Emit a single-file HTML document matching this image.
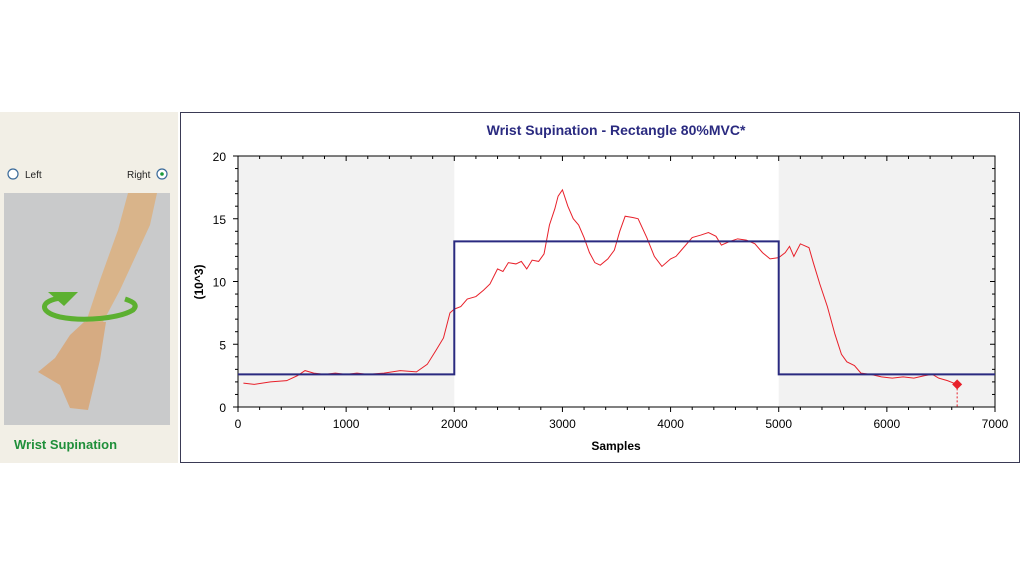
<!DOCTYPE html>
<html><head><meta charset="utf-8"><style>
body{margin:0;width:1024px;height:576px;background:#fff;position:relative;overflow:hidden;font-family:"Liberation Sans",Arial,sans-serif}
#lp{position:absolute;left:0;top:112px;width:178px;height:351px;background:#f2efe6}
#box{position:absolute;left:180px;top:112px;width:838px;height:349px;border:1px solid #3a3a55;background:#fff}
</style></head><body>
<div id="lp"></div>
<div id="box"></div>
<svg width="1024" height="576" style="position:absolute;left:0;top:0" font-family="Liberation Sans, Arial, sans-serif">
<circle cx="13" cy="174" r="5" fill="#fff" stroke="#3a6a9a" stroke-width="1.2"/>
<text x="25" y="178" font-size="10" fill="#222">Left</text>
<text x="127" y="178" font-size="10" fill="#222">Right</text>
<circle cx="162" cy="174" r="5" fill="#fff" stroke="#3a6a9a" stroke-width="1.2"/>
<circle cx="162" cy="174" r="1.8" fill="#1a9a3a"/>
<rect x="4" y="193" width="166" height="232" fill="#c9cacb"/>
<path d="M128 193 L157 193 L150 225 L120 290 L103 322 L86 322 L100 280 L118 230 Z" fill="#d9b48a"/>
<path d="M84 322 L106 322 L100 360 L88 410 L70 408 L60 385 L38 372 L55 358 L70 335 Z" fill="#d6ab82"/>
<path d="M62 298 C40 300 38 312 60 317 C85 322 120 318 133 310 C138 305 134 302 125 299" fill="none" stroke="#5cb030" stroke-width="5"/>
<path d="M48 292 L78 292 L64 306 Z" fill="#5cb030"/>
<text x="14" y="449" font-size="13" font-weight="bold" fill="#1f8f3a">Wrist Supination</text>
<text x="616" y="135" font-size="14" font-weight="bold" fill="#2a2a80" text-anchor="middle">Wrist Supination - Rectangle 80%MVC*</text>
<g id="plot"></g>
<text x="616" y="450" font-size="12" font-weight="bold" text-anchor="middle" fill="#000">Samples</text>
<text transform="translate(203,282) rotate(-90)" font-size="12" font-weight="bold" text-anchor="middle" fill="#000">(10^3)</text>
</svg>
<script>
var X0=238,X1=995,Y0=407,Y20=156;
function X(s){return X0+(X1-X0)*s/7000}function Y(v){return Y0-(Y0-Y20)*v/20}
var h='';
h+='<rect x="'+X0+'" y="'+Y20+'" width="'+(X(2000)-X0)+'" height="'+(Y0-Y20)+'" fill="#f2f2f2"/>';
h+='<rect x="'+X(5000)+'" y="'+Y20+'" width="'+(X1-X(5000))+'" height="'+(Y0-Y20)+'" fill="#f2f2f2"/>';
h+='<rect x="'+X0+'" y="'+Y20+'" width="'+(X1-X0)+'" height="'+(Y0-Y20)+'" fill="none" stroke="#000" stroke-width="1"/>';
for(var s=0;s<=7000;s+=200){var m=s%1000==0,l=m?5:3;var x=X(s);
h+='<line x1="'+x+'" y1="'+Y0+'" x2="'+x+'" y2="'+(Y0+l)+'" stroke="#000"/><line x1="'+x+'" y1="'+Y20+'" x2="'+x+'" y2="'+(Y20+l)+'" stroke="#000"/>';
if(m)h+='<text x="'+x+'" y="'+(Y0+21)+'" font-size="12" text-anchor="middle">'+s+'</text>';}
for(var v=0;v<=20;v+=1){var m=v%5==0,l=m?5:3;var y=Y(v);
h+='<line x1="'+(X0-l)+'" y1="'+y+'" x2="'+X0+'" y2="'+y+'" stroke="#000"/><line x1="'+X1+'" y1="'+y+'" x2="'+(X1-l)+'" y2="'+y+'" stroke="#000"/>';
if(m)h+='<text x="'+(X0-12)+'" y="'+(y+5)+'" font-size="12" text-anchor="end">'+v+'</text>';}
var pts=[[50,1.9],[150,1.8],[300,2.0],[450,2.1],[550,2.5],[620,2.9],[700,2.7],[800,2.6],[900,2.7],[1000,2.6],[1100,2.7],[1200,2.6],[1350,2.7],[1500,2.9],[1650,2.8],[1750,3.4],[1830,4.5],[1900,5.5],[1960,7.5],[2000,7.8],[2060,8.0],[2120,8.6],[2200,8.8],[2270,9.3],[2330,9.8],[2400,11.0],[2450,10.8],[2500,11.5],[2570,11.4],[2620,11.6],[2670,11.0],[2720,11.7],[2780,11.6],[2830,12.2],[2880,14.5],[2930,15.8],[2960,16.8],[3000,17.3],[3050,16],[3100,15.0],[3150,14.5],[3200,13.5],[3250,12.3],[3300,11.5],[3350,11.3],[3420,11.8],[3480,12.5],[3530,14.0],[3580,15.2],[3650,15.1],[3700,15.0],[3780,13.5],[3850,12],[3920,11.2],[4000,11.8],[4050,12.0],[4100,12.5],[4200,13.5],[4280,13.7],[4350,13.9],[4420,13.6],[4470,12.9],[4550,13.2],[4620,13.4],[4700,13.3],[4780,13.0],[4850,12.3],[4920,11.8],[5000,11.9],[5060,12.3],[5100,12.8],[5140,12.0],[5200,13.0],[5280,12.7],[5320,11.5],[5380,9.8],[5450,8],[5520,5.8],[5580,4.2],[5630,3.6],[5700,3.3],[5760,2.7],[5850,2.6],[5950,2.4],[6050,2.3],[6150,2.4],[6250,2.3],[6350,2.5],[6420,2.6],[6480,2.3],[6560,2.1],[6650,1.8]];
h+='<polyline fill="none" stroke="#e8202a" stroke-width="1" points="'+pts.map(function(p){return X(p[0])+','+Y(p[1])}).join(' ')+'"/>';
var b=Y(2.6),t=Y(13.2);
h+='<polyline fill="none" stroke="#2a2a80" stroke-width="2" points="'+X0+','+b+' '+X(2000)+','+b+' '+X(2000)+','+t+' '+X(5000)+','+t+' '+X(5000)+','+b+' '+X1+','+b+'"/>';
var mx=X(6650),my=Y(1.8);
h+='<line x1="'+mx+'" y1="'+my+'" x2="'+mx+'" y2="'+Y0+'" stroke="#e8202a" stroke-dasharray="2,2"/>';
h+='<path d="M'+mx+' '+(my-5)+' L'+(mx+5)+' '+my+' L'+mx+' '+(my+5)+' L'+(mx-5)+' '+my+' Z" fill="#e8202a"/>';
document.getElementById('plot').innerHTML=h;
</script>
</body></html>
